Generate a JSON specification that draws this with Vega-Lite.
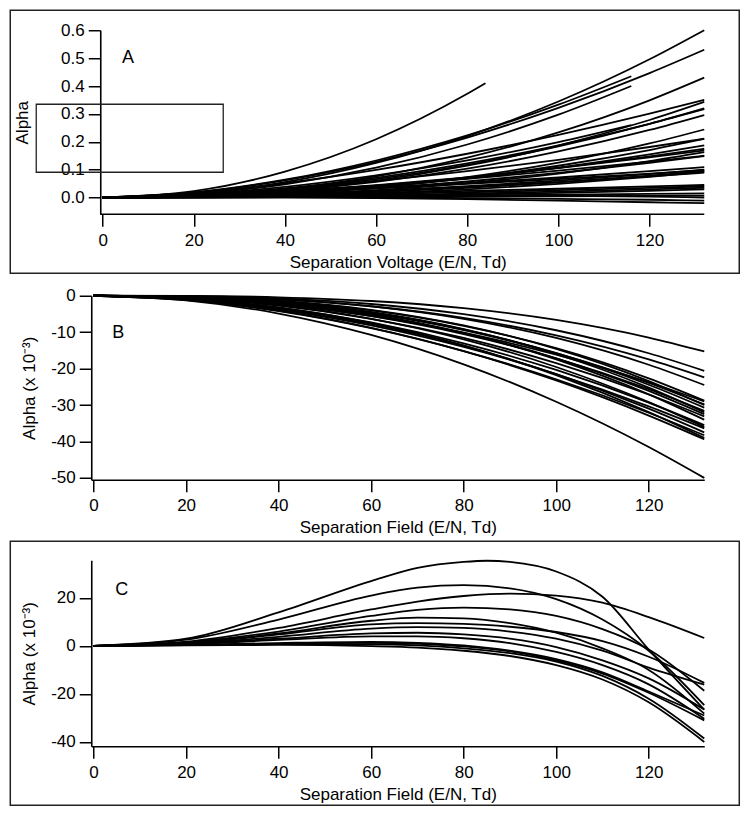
{
"$schema": "https://vega.github.io/schema/vega-lite/v6.json",
"background": "white",
"padding": {"left": 9.25, "top": 9.25, "right": 10, "bottom": 10},
"autosize": {"type": "pad"},
"spacing": 0.5,
"datasets": {
"a": [
{"k":1,"x":0,"y":0},{"k":1,"x":20,"y":0.023},{"k":1,"x":40,"y":0.093},{"k":1,"x":60,"y":0.209},{"k":1,"x":80,"y":0.372},{"k":1,"x":84,"y":0.41},
{"k":2,"x":0,"y":0},{"k":2,"x":20,"y":0.0138},{"k":2,"x":40,"y":0.0551},{"k":2,"x":60,"y":0.124},{"k":2,"x":80,"y":0.2204},{"k":2,"x":100,"y":0.3443},{"k":2,"x":120,"y":0.4958},{"k":2,"x":132,"y":0.6},
{"k":3,"x":0,"y":0},{"k":3,"x":20,"y":0.0184},{"k":3,"x":40,"y":0.0639},{"k":3,"x":60,"y":0.1328},{"k":3,"x":80,"y":0.2229},{"k":3,"x":100,"y":0.333},{"k":3,"x":116,"y":0.435},
{"k":4,"x":0,"y":0},{"k":4,"x":20,"y":0.0119},{"k":4,"x":40,"y":0.0476},{"k":4,"x":60,"y":0.107},{"k":4,"x":80,"y":0.1902},{"k":4,"x":100,"y":0.2972},{"k":4,"x":116,"y":0.4},
{"k":5,"x":0,"y":0},{"k":5,"x":20,"y":0.0178},{"k":5,"x":40,"y":0.0618},{"k":5,"x":60,"y":0.1282},{"k":5,"x":80,"y":0.2152},{"k":5,"x":100,"y":0.3216},{"k":5,"x":120,"y":0.4464},{"k":5,"x":132,"y":0.53},
{"k":6,"x":0,"y":0},{"k":6,"x":20,"y":0.0068},{"k":6,"x":40,"y":0.0311},{"k":6,"x":60,"y":0.0759},{"k":6,"x":80,"y":0.1429},{"k":6,"x":100,"y":0.2335},{"k":6,"x":120,"y":0.3486},{"k":6,"x":132,"y":0.43},
{"k":7,"x":0,"y":0},{"k":7,"x":20,"y":0.0171},{"k":7,"x":40,"y":0.0518},{"k":7,"x":60,"y":0.0991},{"k":7,"x":80,"y":0.157},{"k":7,"x":100,"y":0.2245},{"k":7,"x":120,"y":0.3005},{"k":7,"x":132,"y":0.35},
{"k":8,"x":0,"y":0},{"k":8,"x":20,"y":0.0054},{"k":8,"x":40,"y":0.0248},{"k":8,"x":60,"y":0.0605},{"k":8,"x":80,"y":0.114},{"k":8,"x":100,"y":0.1862},{"k":8,"x":120,"y":0.2781},{"k":8,"x":132,"y":0.343},
{"k":9,"x":0,"y":0},{"k":9,"x":20,"y":0.0088},{"k":9,"x":40,"y":0.0328},{"k":9,"x":60,"y":0.0708},{"k":9,"x":80,"y":0.1224},{"k":9,"x":100,"y":0.1871},{"k":9,"x":120,"y":0.2645},{"k":9,"x":132,"y":0.317},
{"k":10,"x":0,"y":0},{"k":10,"x":20,"y":0.0056},{"k":10,"x":40,"y":0.0241},{"k":10,"x":60,"y":0.0565},{"k":10,"x":80,"y":0.1034},{"k":10,"x":100,"y":0.1653},{"k":10,"x":120,"y":0.2423},{"k":10,"x":132,"y":0.296},
{"k":11,"x":0,"y":0},{"k":11,"x":20,"y":0.011},{"k":11,"x":40,"y":0.0382},{"k":11,"x":60,"y":0.0794},{"k":11,"x":80,"y":0.1332},{"k":11,"x":100,"y":0.199},{"k":11,"x":116,"y":0.26},
{"k":12,"x":0,"y":0},{"k":12,"x":20,"y":0.0026},{"k":12,"x":40,"y":0.0139},{"k":12,"x":60,"y":0.0368},{"k":12,"x":80,"y":0.0733},{"k":12,"x":100,"y":0.1253},{"k":12,"x":120,"y":0.1941},{"k":12,"x":132,"y":0.244},
{"k":13,"x":0,"y":0},{"k":13,"x":20,"y":0.0103},{"k":13,"x":40,"y":0.0312},{"k":13,"x":60,"y":0.0598},{"k":13,"x":80,"y":0.0947},{"k":13,"x":100,"y":0.1353},{"k":13,"x":120,"y":0.1812},{"k":13,"x":132,"y":0.211},
{"k":14,"x":0,"y":0},{"k":14,"x":20,"y":0.0043},{"k":14,"x":40,"y":0.0172},{"k":14,"x":60,"y":0.0386},{"k":14,"x":80,"y":0.0687},{"k":14,"x":100,"y":0.1073},{"k":14,"x":120,"y":0.1545},{"k":14,"x":132,"y":0.187},
{"k":15,"x":0,"y":0},{"k":15,"x":20,"y":0.0068},{"k":15,"x":40,"y":0.0222},{"k":15,"x":60,"y":0.0442},{"k":15,"x":80,"y":0.0722},{"k":15,"x":100,"y":0.1054},{"k":15,"x":120,"y":0.1437},{"k":15,"x":132,"y":0.169},
{"k":16,"x":0,"y":0},{"k":16,"x":20,"y":0.0021},{"k":16,"x":40,"y":0.0105},{"k":16,"x":60,"y":0.0266},{"k":16,"x":80,"y":0.0515},{"k":16,"x":100,"y":0.0861},{"k":16,"x":120,"y":0.1309},{"k":16,"x":132,"y":0.163},
{"k":17,"x":0,"y":0},{"k":17,"x":20,"y":0.0041},{"k":17,"x":40,"y":0.0154},{"k":17,"x":60,"y":0.0333},{"k":17,"x":80,"y":0.0575},{"k":17,"x":100,"y":0.0879},{"k":17,"x":120,"y":0.1243},{"k":17,"x":132,"y":0.149},
{"k":18,"x":0,"y":0},{"k":18,"x":20,"y":0.0064},{"k":18,"x":40,"y":0.0182},{"k":18,"x":60,"y":0.0334},{"k":18,"x":80,"y":0.0514},{"k":18,"x":100,"y":0.0719},{"k":18,"x":120,"y":0.0945},{"k":18,"x":132,"y":0.109},
{"k":19,"x":0,"y":0},{"k":19,"x":20,"y":0.0022},{"k":19,"x":40,"y":0.0087},{"k":19,"x":60,"y":0.0196},{"k":19,"x":80,"y":0.0349},{"k":19,"x":100,"y":0.0545},{"k":19,"x":120,"y":0.0785},{"k":19,"x":132,"y":0.095},
{"k":20,"x":0,"y":0},{"k":20,"x":20,"y":0.0036},{"k":20,"x":40,"y":0.0117},{"k":20,"x":60,"y":0.0233},{"k":20,"x":80,"y":0.038},{"k":20,"x":100,"y":0.0555},{"k":20,"x":120,"y":0.0757},{"k":20,"x":132,"y":0.089},
{"k":21,"x":0,"y":0},{"k":21,"x":20,"y":0.0024},{"k":21,"x":40,"y":0.0067},{"k":21,"x":60,"y":0.0123},{"k":21,"x":80,"y":0.0189},{"k":21,"x":100,"y":0.0264},{"k":21,"x":120,"y":0.0347},{"k":21,"x":132,"y":0.04},
{"k":22,"x":0,"y":0},{"k":22,"x":20,"y":0.0007},{"k":22,"x":40,"y":0.0027},{"k":22,"x":60,"y":0.006},{"k":22,"x":80,"y":0.0107},{"k":22,"x":100,"y":0.0166},{"k":22,"x":120,"y":0.024},{"k":22,"x":132,"y":0.029},
{"k":23,"x":0,"y":0},{"k":23,"x":20,"y":0.0004},{"k":23,"x":40,"y":0.0012},{"k":23,"x":60,"y":0.0021},{"k":23,"x":80,"y":0.0033},{"k":23,"x":100,"y":0.0046},{"k":23,"x":120,"y":0.0061},{"k":23,"x":132,"y":0.007},
{"k":24,"x":0,"y":0},{"k":24,"x":20,"y":0.002},{"k":24,"x":40,"y":0.006},{"k":24,"x":60,"y":0.008},{"k":24,"x":80,"y":0.008},{"k":24,"x":100,"y":0.006},{"k":24,"x":120,"y":0.003},{"k":24,"x":132,"y":0},
{"k":25,"x":0,"y":0},{"k":25,"x":20,"y":0.001},{"k":25,"x":40,"y":0.002},{"k":25,"x":60,"y":0.001},{"k":25,"x":80,"y":-0.002},{"k":25,"x":100,"y":-0.005},{"k":25,"x":120,"y":-0.008},{"k":25,"x":132,"y":-0.011},
{"k":26,"x":0,"y":0},{"k":26,"x":20,"y":0},{"k":26,"x":40,"y":0},{"k":26,"x":60,"y":-0.002},{"k":26,"x":80,"y":-0.006},{"k":26,"x":100,"y":-0.011},{"k":26,"x":120,"y":-0.017},{"k":26,"x":132,"y":-0.02},
{"k":27,"x":0,"y":0},{"k":27,"x":20,"y":0.0059},{"k":27,"x":40,"y":0.0204},{"k":27,"x":60,"y":0.0423},{"k":27,"x":80,"y":0.0711},{"k":27,"x":100,"y":0.1062},{"k":27,"x":120,"y":0.1474},{"k":27,"x":132,"y":0.175},
{"k":28,"x":0,"y":0},{"k":28,"x":20,"y":0.0034},{"k":28,"x":40,"y":0.0117},{"k":28,"x":60,"y":0.0242},{"k":28,"x":80,"y":0.0406},{"k":28,"x":100,"y":0.0607},{"k":28,"x":120,"y":0.0842},{"k":28,"x":132,"y":0.1},
{"k":29,"x":0,"y":0},{"k":29,"x":20,"y":0.0012},{"k":29,"x":40,"y":0.0059},{"k":29,"x":60,"y":0.015},{"k":29,"x":80,"y":0.0291},{"k":29,"x":100,"y":0.0486},{"k":29,"x":120,"y":0.0739},{"k":29,"x":132,"y":0.092},
{"k":30,"x":0,"y":0},{"k":30,"x":20,"y":0.0012},{"k":30,"x":40,"y":0.0041},{"k":30,"x":60,"y":0.0085},{"k":30,"x":80,"y":0.0142},{"k":30,"x":100,"y":0.0212},{"k":30,"x":120,"y":0.0295},{"k":30,"x":132,"y":0.035},
{"k":31,"x":0,"y":0},{"k":31,"x":20,"y":0.0009},{"k":31,"x":40,"y":0.0025},{"k":31,"x":60,"y":0.0046},{"k":31,"x":80,"y":0.0071},{"k":31,"x":100,"y":0.0099},{"k":31,"x":120,"y":0.013},{"k":31,"x":132,"y":0.015},
{"k":32,"x":0,"y":0},{"k":32,"x":20,"y":0.0074},{"k":32,"x":40,"y":0.0294},{"k":32,"x":60,"y":0.0661},{"k":32,"x":80,"y":0.1175},{"k":32,"x":100,"y":0.1836},{"k":32,"x":120,"y":0.2645},{"k":32,"x":132,"y":0.32},
{"k":33,"x":0,"y":0},{"k":33,"x":20,"y":0.0033},{"k":33,"x":40,"y":0.0152},{"k":33,"x":60,"y":0.0371},{"k":33,"x":80,"y":0.0698},{"k":33,"x":100,"y":0.114},{"k":33,"x":120,"y":0.1703},{"k":33,"x":132,"y":0.21},
{"k":34,"x":0,"y":0},{"k":34,"x":20,"y":0.0073},{"k":34,"x":40,"y":0.0222},{"k":34,"x":60,"y":0.0425},{"k":34,"x":80,"y":0.0673},{"k":34,"x":100,"y":0.0962},{"k":34,"x":120,"y":0.1288},{"k":34,"x":132,"y":0.15},
{"k":35,"x":0,"y":0},{"k":35,"x":20,"y":0.007},{"k":35,"x":40,"y":0.0184},{"k":35,"x":60,"y":0.0325},{"k":35,"x":80,"y":0.0486},{"k":35,"x":100,"y":0.0664},{"k":35,"x":120,"y":0.0858},{"k":35,"x":132,"y":0.098},
{"k":36,"x":0,"y":0},{"k":36,"x":20,"y":0.0039},{"k":36,"x":40,"y":0.0095},{"k":36,"x":60,"y":0.0162},{"k":36,"x":80,"y":0.0235},{"k":36,"x":100,"y":0.0314},{"k":36,"x":120,"y":0.0398},{"k":36,"x":132,"y":0.045}
],
"b": [
{"k":1,"x":0,"y":0},{"k":1,"x":20,"y":-1.26},{"k":1,"x":40,"y":-4.88},{"k":1,"x":60,"y":-10.75},{"k":1,"x":80,"y":-18.83},{"k":1,"x":100,"y":-29.1},{"k":1,"x":120,"y":-41.52},{"k":1,"x":132,"y":-50},
{"k":2,"x":0,"y":0},{"k":2,"x":20,"y":-0.05},{"k":2,"x":40,"y":-0.43},{"k":2,"x":60,"y":-1.44},{"k":2,"x":80,"y":-3.41},{"k":2,"x":100,"y":-6.65},{"k":2,"x":120,"y":-11.49},{"k":2,"x":132,"y":-15.3},
{"k":3,"x":0,"y":0},{"k":3,"x":20,"y":-0.11},{"k":3,"x":40,"y":-0.73},{"k":3,"x":60,"y":-2.27},{"k":3,"x":80,"y":-5.07},{"k":3,"x":100,"y":-9.47},{"k":3,"x":120,"y":-15.78},{"k":3,"x":132,"y":-20.6},
{"k":4,"x":0,"y":0},{"k":4,"x":20,"y":-0.17},{"k":4,"x":40,"y":-1.01},{"k":4,"x":60,"y":-2.88},{"k":4,"x":80,"y":-6.09},{"k":4,"x":100,"y":-10.88},{"k":4,"x":120,"y":-17.48},{"k":4,"x":132,"y":-22.4},
{"k":5,"x":0,"y":0},{"k":5,"x":20,"y":-0.15},{"k":5,"x":40,"y":-0.98},{"k":5,"x":60,"y":-2.92},{"k":5,"x":80,"y":-6.34},{"k":5,"x":100,"y":-11.58},{"k":5,"x":120,"y":-18.94},{"k":5,"x":132,"y":-24.5},
{"k":6,"x":0,"y":0},{"k":6,"x":20,"y":-0.26},{"k":6,"x":40,"y":-1.45},{"k":6,"x":60,"y":-4.01},{"k":6,"x":80,"y":-8.24},{"k":6,"x":100,"y":-14.39},{"k":6,"x":120,"y":-22.69},{"k":6,"x":132,"y":-28.8},
{"k":7,"x":0,"y":0},{"k":7,"x":20,"y":-0.39},{"k":7,"x":40,"y":-1.91},{"k":7,"x":60,"y":-4.86},{"k":7,"x":80,"y":-9.42},{"k":7,"x":100,"y":-15.74},{"k":7,"x":120,"y":-23.94},{"k":7,"x":132,"y":-29.8},
{"k":8,"x":0,"y":0},{"k":8,"x":20,"y":-0.33},{"k":8,"x":40,"y":-1.75},{"k":8,"x":60,"y":-4.63},{"k":8,"x":80,"y":-9.23},{"k":8,"x":100,"y":-15.77},{"k":8,"x":120,"y":-24.42},{"k":8,"x":132,"y":-30.7},
{"k":9,"x":0,"y":0},{"k":9,"x":20,"y":-0.5},{"k":9,"x":40,"y":-2.28},{"k":9,"x":60,"y":-5.58},{"k":9,"x":80,"y":-10.5},{"k":9,"x":100,"y":-17.16},{"k":9,"x":120,"y":-25.62},{"k":9,"x":132,"y":-31.6},
{"k":10,"x":0,"y":0},{"k":10,"x":20,"y":-0.42},{"k":10,"x":40,"y":-2.09},{"k":10,"x":60,"y":-5.3},{"k":10,"x":80,"y":-10.27},{"k":10,"x":100,"y":-17.16},{"k":10,"x":120,"y":-26.1},{"k":10,"x":132,"y":-32.5},
{"k":11,"x":0,"y":0},{"k":11,"x":20,"y":-0.63},{"k":11,"x":40,"y":-2.7},{"k":11,"x":60,"y":-6.32},{"k":11,"x":80,"y":-11.57},{"k":11,"x":100,"y":-18.48},{"k":11,"x":120,"y":-27.1},{"k":11,"x":132,"y":-33.1},
{"k":12,"x":0,"y":0},{"k":12,"x":20,"y":-0.82},{"k":12,"x":40,"y":-3.26},{"k":12,"x":60,"y":-7.33},{"k":12,"x":80,"y":-13.04},{"k":12,"x":100,"y":-20.37},{"k":12,"x":120,"y":-29.34},{"k":12,"x":132,"y":-35.5},
{"k":13,"x":0,"y":0},{"k":13,"x":20,"y":-1.01},{"k":13,"x":40,"y":-3.77},{"k":13,"x":60,"y":-8.14},{"k":13,"x":80,"y":-14.06},{"k":13,"x":100,"y":-21.48},{"k":13,"x":120,"y":-30.37},{"k":13,"x":132,"y":-36.4},
{"k":14,"x":0,"y":0},{"k":14,"x":20,"y":-0.86},{"k":14,"x":40,"y":-3.44},{"k":14,"x":60,"y":-7.75},{"k":14,"x":80,"y":-13.77},{"k":14,"x":100,"y":-21.52},{"k":14,"x":120,"y":-30.99},{"k":14,"x":132,"y":-37.5},
{"k":15,"x":0,"y":0},{"k":15,"x":20,"y":-1.17},{"k":15,"x":40,"y":-4.21},{"k":15,"x":60,"y":-8.9},{"k":15,"x":80,"y":-15.17},{"k":15,"x":100,"y":-22.92},{"k":15,"x":120,"y":-32.11},{"k":15,"x":132,"y":-38.3},
{"k":16,"x":0,"y":0},{"k":16,"x":20,"y":-1.09},{"k":16,"x":40,"y":-4.08},{"k":16,"x":60,"y":-8.81},{"k":16,"x":80,"y":-15.22},{"k":16,"x":100,"y":-23.25},{"k":16,"x":120,"y":-32.88},{"k":16,"x":132,"y":-39.4},
{"k":17,"x":0,"y":0},{"k":17,"x":20,"y":-0.22},{"k":17,"x":40,"y":-1.35},{"k":17,"x":60,"y":-3.86},{"k":17,"x":80,"y":-8.16},{"k":17,"x":100,"y":-14.58},{"k":17,"x":120,"y":-23.42},{"k":17,"x":132,"y":-30},
{"k":18,"x":0,"y":0},{"k":18,"x":20,"y":-0.29},{"k":18,"x":40,"y":-1.62},{"k":18,"x":60,"y":-4.46},{"k":18,"x":80,"y":-9.15},{"k":18,"x":100,"y":-15.99},{"k":18,"x":120,"y":-25.22},{"k":18,"x":132,"y":-32},
{"k":19,"x":0,"y":0},{"k":19,"x":20,"y":-0.57},{"k":19,"x":40,"y":-2.6},{"k":19,"x":60,"y":-6.35},{"k":19,"x":80,"y":-11.96},{"k":19,"x":100,"y":-19.55},{"k":19,"x":120,"y":-29.19},{"k":19,"x":132,"y":-36},
{"k":20,"x":0,"y":0},{"k":20,"x":20,"y":-0.74},{"k":20,"x":40,"y":-3.18},{"k":20,"x":60,"y":-7.45},{"k":20,"x":80,"y":-13.63},{"k":20,"x":100,"y":-21.77},{"k":20,"x":120,"y":-31.93},{"k":20,"x":132,"y":-39},
{"k":21,"x":0,"y":0},{"k":21,"x":20,"y":-0.37},{"k":21,"x":40,"y":-1.93},{"k":21,"x":60,"y":-5.13},{"k":21,"x":80,"y":-10.22},{"k":21,"x":100,"y":-17.47},{"k":21,"x":120,"y":-27.05},{"k":21,"x":132,"y":-34},
{"k":22,"x":0,"y":0},{"k":22,"x":20,"y":-0.55},{"k":22,"x":40,"y":-2.36},{"k":22,"x":60,"y":-5.54},{"k":22,"x":80,"y":-10.13},{"k":22,"x":100,"y":-16.19},{"k":22,"x":120,"y":-23.74},{"k":22,"x":132,"y":-29}
],
"c": [
{"k":1,"x":0,"y":0},{"k":1,"x":20,"y":3},{"k":1,"x":40,"y":14},{"k":1,"x":60,"y":27},{"k":1,"x":70,"y":32.5},{"k":1,"x":80,"y":35},{"k":1,"x":85,"y":35.5},{"k":1,"x":90,"y":35},{"k":1,"x":100,"y":31},{"k":1,"x":110,"y":20.5},{"k":1,"x":120,"y":-1.5},{"k":1,"x":132,"y":-26.5},
{"k":2,"x":0,"y":0},{"k":2,"x":20,"y":2.6},{"k":2,"x":40,"y":11},{"k":2,"x":60,"y":21},{"k":2,"x":70,"y":24.3},{"k":2,"x":80,"y":25.3},{"k":2,"x":90,"y":24},{"k":2,"x":100,"y":19.5},{"k":2,"x":110,"y":11},{"k":2,"x":120,"y":-2},{"k":2,"x":132,"y":-24.7},
{"k":3,"x":0,"y":0},{"k":3,"x":20,"y":1.8},{"k":3,"x":40,"y":7.5},{"k":3,"x":60,"y":15.2},{"k":3,"x":70,"y":18.5},{"k":3,"x":80,"y":20.8},{"k":3,"x":90,"y":21.8},{"k":3,"x":100,"y":21},{"k":3,"x":110,"y":18},{"k":3,"x":120,"y":12},{"k":3,"x":132,"y":3.3},
{"k":4,"x":0,"y":0},{"k":4,"x":20,"y":1.5},{"k":4,"x":40,"y":6},{"k":4,"x":60,"y":12.5},{"k":4,"x":70,"y":15},{"k":4,"x":80,"y":16},{"k":4,"x":90,"y":15.2},{"k":4,"x":100,"y":12.5},{"k":4,"x":110,"y":7},{"k":4,"x":120,"y":-1.5},{"k":4,"x":132,"y":-18.7},
{"k":5,"x":0,"y":0},{"k":5,"x":20,"y":1.3},{"k":5,"x":40,"y":5.2},{"k":5,"x":60,"y":10.5},{"k":5,"x":70,"y":11.8},{"k":5,"x":80,"y":11.5},{"k":5,"x":90,"y":9.5},{"k":5,"x":100,"y":5.5},{"k":5,"x":110,"y":-1},{"k":5,"x":120,"y":-10},{"k":5,"x":132,"y":-28.2},
{"k":6,"x":0,"y":0},{"k":6,"x":20,"y":1.2},{"k":6,"x":40,"y":4.8},{"k":6,"x":60,"y":9},{"k":6,"x":70,"y":9.5},{"k":6,"x":80,"y":9.2},{"k":6,"x":90,"y":8},{"k":6,"x":100,"y":5.8},{"k":6,"x":110,"y":2},{"k":6,"x":120,"y":-4.5},{"k":6,"x":132,"y":-15.4},
{"k":7,"x":0,"y":0},{"k":7,"x":20,"y":1},{"k":7,"x":40,"y":3.8},{"k":7,"x":60,"y":7.2},{"k":7,"x":70,"y":7.8},{"k":7,"x":80,"y":7.5},{"k":7,"x":90,"y":6},{"k":7,"x":100,"y":3},{"k":7,"x":110,"y":-2},{"k":7,"x":120,"y":-9},{"k":7,"x":132,"y":-16.1},
{"k":8,"x":0,"y":0},{"k":8,"x":20,"y":0.8},{"k":8,"x":40,"y":3},{"k":8,"x":60,"y":5.2},{"k":8,"x":70,"y":5.5},{"k":8,"x":80,"y":4.8},{"k":8,"x":90,"y":3},{"k":8,"x":100,"y":-0.5},{"k":8,"x":110,"y":-6},{"k":8,"x":120,"y":-13.5},{"k":8,"x":132,"y":-26.5},
{"k":9,"x":0,"y":0},{"k":9,"x":20,"y":0.7},{"k":9,"x":40,"y":2.5},{"k":9,"x":60,"y":4},{"k":9,"x":70,"y":4},{"k":9,"x":80,"y":3.2},{"k":9,"x":90,"y":1.2},{"k":9,"x":100,"y":-2.5},{"k":9,"x":110,"y":-8},{"k":9,"x":120,"y":-16},{"k":9,"x":132,"y":-30.3},
{"k":10,"x":0,"y":0},{"k":10,"x":20,"y":0.4},{"k":10,"x":40,"y":1.2},{"k":10,"x":60,"y":1.7},{"k":10,"x":70,"y":1.3},{"k":10,"x":80,"y":0.2},{"k":10,"x":90,"y":-2},{"k":10,"x":100,"y":-5.5},{"k":10,"x":110,"y":-11},{"k":10,"x":120,"y":-19},{"k":10,"x":132,"y":-29},
{"k":11,"x":0,"y":0},{"k":11,"x":20,"y":0.3},{"k":11,"x":40,"y":0.8},{"k":11,"x":60,"y":0.7},{"k":11,"x":70,"y":0.2},{"k":11,"x":80,"y":-1},{"k":11,"x":90,"y":-3},{"k":11,"x":100,"y":-6.5},{"k":11,"x":110,"y":-12.5},{"k":11,"x":120,"y":-22},{"k":11,"x":132,"y":-38.6},
{"k":12,"x":0,"y":0},{"k":12,"x":20,"y":0.2},{"k":12,"x":40,"y":0.4},{"k":12,"x":60,"y":-0.1},{"k":12,"x":70,"y":-0.7},{"k":12,"x":80,"y":-2},{"k":12,"x":90,"y":-4.2},{"k":12,"x":100,"y":-8},{"k":12,"x":110,"y":-14},{"k":12,"x":120,"y":-23.5},{"k":12,"x":132,"y":-40},
{"k":13,"x":0,"y":0},{"k":13,"x":20,"y":0.3},{"k":13,"x":40,"y":1},{"k":13,"x":60,"y":1.3},{"k":13,"x":70,"y":0.9},{"k":13,"x":80,"y":-0.2},{"k":13,"x":90,"y":-2.3},{"k":13,"x":100,"y":-6},{"k":13,"x":110,"y":-11.5},{"k":13,"x":120,"y":-19.5},{"k":13,"x":132,"y":-31}
]
},
"vconcat": [
{
"width": 613, "height": 184,
"resolve": {"axis": {"x": "independent", "y": "independent"}},
"layer": [
{"data": {"name": "a"},
 "mark": {"type": "line", "color": "black", "strokeWidth": 1.8, "interpolate": "monotone"},
 "encoding": {
  "x": {"field": "x", "type": "quantitative", "scale": {"domain": [-2.5, 132], "nice": false, "zero": false},
        "axis": {"title": "Separation Voltage (E/N, Td)", "values": [0, 20, 40, 60, 80, 100, 120], "domain": false, "labelOverlap": false}},
  "y": {"field": "y", "type": "quantitative", "scale": {"domain": [-0.06, 0.6], "nice": false, "zero": false},
        "axis": {"title": "Alpha", "values": [0, 0.1, 0.2, 0.3, 0.4, 0.5, 0.6], "format": ".1f", "titlePadding": 29, "offset": -9, "labelOverlap": false}},
  "detail": {"field": "k"}
 }},
{"data": {"values": [{}]},
 "mark": {"type": "rule", "color": "black", "strokeWidth": 1.6},
 "encoding": {
  "x": {"datum": -0.5, "type": "quantitative", "axis": null},
  "x2": {"datum": 132},
  "y": {"datum": -0.06, "type": "quantitative", "axis": null}
 }},
{"data": {"values": [{}]},
 "mark": {"type": "rect", "stroke": "#222222", "strokeWidth": 1.5, "fillOpacity": 0},
 "encoding": {
  "x": {"datum": -20.27, "type": "quantitative", "axis": null},
  "x2": {"datum": 139.68},
  "y": {"datum": 0.6717, "type": "quantitative", "axis": null},
  "y2": {"datum": -0.2716}
 }},
{"data": {"values": [{}]},
 "mark": {"type": "rect", "stroke": "#222222", "strokeWidth": 1.3, "fillOpacity": 0},
 "encoding": {
  "x": {"datum": -14.57, "type": "quantitative", "axis": null},
  "x2": {"datum": 26.46},
  "y": {"datum": 0.3346, "type": "quantitative", "axis": null},
  "y2": {"datum": 0.0907}
 }},
{"data": {"values": [{}]},
 "mark": {"type": "text", "text": "A", "font": "Liberation Sans", "fontSize": 18, "color": "black", "align": "center", "baseline": "middle"},
 "encoding": {
  "x": {"datum": 5.55, "type": "quantitative", "axis": null},
  "y": {"datum": 0.5, "type": "quantitative", "axis": null}
 }}
]
},
{
"width": 613, "height": 184,
"resolve": {"axis": {"x": "independent", "y": "independent"}},
"layer": [
{"data": {"name": "b"},
 "mark": {"type": "line", "color": "black", "strokeWidth": 1.8, "interpolate": "monotone"},
 "encoding": {
  "x": {"field": "x", "type": "quantitative", "scale": {"domain": [-0.5, 132], "nice": false, "zero": false},
        "axis": {"title": "Separation Field (E/N, Td)", "values": [0, 20, 40, 60, 80, 100, 120], "labelOverlap": false}},
  "y": {"field": "y", "type": "quantitative", "scale": {"domain": [-50.5, 0], "nice": false, "zero": false},
        "axis": {"title": "Alpha (x 10⁻³)", "values": [0, -10, -20, -30, -40, -50], "titlePadding": 12, "labelOverlap": false}},
  "detail": {"field": "k"}
 }},
{"data": {"values": [{}]},
 "mark": {"type": "rect", "stroke": "white", "strokeWidth": 1.5, "fillOpacity": 0, "opacity": 0},
 "encoding": {
  "x": {"datum": -18.0, "type": "quantitative", "axis": null},
  "x2": {"datum": 139.57},
  "y": {"datum": 5.49, "type": "quantitative", "axis": null},
  "y2": {"datum": -66.95}
 }},
{"data": {"values": [{}]},
 "mark": {"type": "text", "text": "B", "font": "Liberation Sans", "fontSize": 18, "color": "black", "align": "center", "baseline": "middle"},
 "encoding": {
  "x": {"datum": 5.34, "type": "quantitative", "axis": null},
  "y": {"datum": -10.15, "type": "quantitative", "axis": null}
 }}
]
},
{
"width": 613, "height": 186,
"resolve": {"axis": {"x": "independent", "y": "independent"}},
"layer": [
{"data": {"name": "c"},
 "mark": {"type": "line", "color": "black", "strokeWidth": 1.8, "interpolate": "monotone"},
 "encoding": {
  "x": {"field": "x", "type": "quantitative", "scale": {"domain": [-0.5, 132], "nice": false, "zero": false},
        "axis": {"title": "Separation Field (E/N, Td)", "values": [0, 20, 40, 60, 80, 100, 120], "labelOverlap": false}},
  "y": {"field": "y", "type": "quantitative", "scale": {"domain": [-41.8, 35.7], "nice": false, "zero": false},
        "axis": {"title": "Alpha (x 10⁻³)", "values": [-40, -20, 0, 20], "titlePadding": 12, "labelOverlap": false}},
  "detail": {"field": "k"}
 }},
{"data": {"values": [{}]},
 "mark": {"type": "rect", "stroke": "#222222", "strokeWidth": 1.5, "fillOpacity": 0},
 "encoding": {
  "x": {"datum": -18.0, "type": "quantitative", "axis": null},
  "x2": {"datum": 139.57},
  "y": {"datum": 43.62, "type": "quantitative", "axis": null},
  "y2": {"datum": -66.38}
 }},
{"data": {"values": [{}]},
 "mark": {"type": "text", "text": "C", "font": "Liberation Sans", "fontSize": 18, "color": "black", "align": "center", "baseline": "middle"},
 "encoding": {
  "x": {"datum": 6.1, "type": "quantitative", "axis": null},
  "y": {"datum": 23.2, "type": "quantitative", "axis": null}
 }}
]
}
],
"config": {
 "view": {"stroke": null},
 "font": "Liberation Sans",
 "locale": {"number": {"decimal": ".", "thousands": ",", "grouping": [3], "currency": ["$", ""], "minus": "-"}},
 "axis": {"domainColor": "black", "domainWidth": 1.6, "tickColor": "black", "tickWidth": 1.5, "tickSize": 12,
          "labelFont": "Liberation Sans", "labelFontSize": 17, "labelColor": "black", "labelPadding": 4,
          "labelOverlap": false, "labelBound": false,
          "titleFont": "Liberation Sans", "titleFontSize": 17, "titleFontWeight": "normal", "titleColor": "black",
          "grid": false, "labelFlush": false},
 "axisX": {"labelPadding": 6, "titlePadding": 6},
 "axisY": {"titlePadding": 29}
}
}
